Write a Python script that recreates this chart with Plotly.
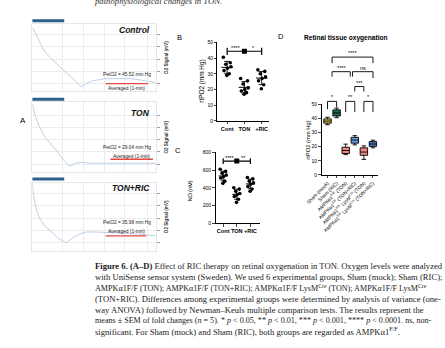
import plotly.graph_objects as go
import numpy as np

W, H = 445, 348
def fx(x): return x / W
def fy(y): return 1 - y / H

# ---------------- Panel A data (time s, O2 signal, arbitrary mV) ----------------
CTRL_T = [0, 2.5, 5, 7.5, 10, 12.5, 15, 17.5, 20, 22, 23.5, 25, 26.5, 28, 31.5, 35, 38, 45, 51.5, 58, 64]
CTRL_S = [65, 56, 45, 38, 33, 28, 23, 19, 15, 11, 7, 5, 6, 8, 11, 12, 13, 13, 13, 11, 9]
TON_T = [0, 1.5, 3.5, 5.5, 8, 10, 11, 12.5, 15, 17.5, 19, 20.5, 22.5, 25, 29, 34, 41.5, 51.5, 64]
TON_S = [69, 57, 47, 39, 32, 28, 26, 22, 15, 9, 6, 7, 9, 10, 9, 9, 9, 9, 9]
RIC_T = [0, 0.5, 1.5, 2.5, 4, 6.5, 10, 13, 15.5, 17.5, 19, 21.5, 24.5, 28, 32.5, 41.5, 55, 64]
RIC_S = [69, 57, 47, 39, 32, 25, 19, 13, 10, 8, 10, 14, 17, 19, 19, 18, 17, 15]
A_NAMES = ["Control", "TON", "TON+RIC"]
A_PETO2 = ["PetO2 = 45.52 mm Hg", "PetO2 = 29.04 mm Hg", "PetO2 = 35.98 mm Hg"]
A_AVG = "Averaged (1-min)"

# ---------------- Panel B / C data ----------------
GROUPS_BC = ["Cont", "TON", "+RIC"]
B_CONT = [40.5, 37, 36, 34.5, 33.5, 32, 30, 29]
B_TON = [27, 25.5, 23.5, 21, 20, 19, 18, 17]
B_RIC = [32.5, 31.5, 30, 28, 27, 25.5, 23, 20.5]
C_CONT = [610, 585, 565, 545, 525, 510, 475, 450]
C_TON = [400, 385, 360, 335, 320, 300, 270, 235]
C_RIC = [515, 500, 475, 455, 440, 415, 385, 360]
B_SIG = ["****", "*"]
C_SIG = ["****", "**"]

# ---------------- Panel D data ----------------
D_GROUPS = ["Sham (mock)", "Sham (RIC)", "AMPKα1<sup>F/F</sup> (TON)", "AMPKα1<sup>F/F</sup> (TON+RIC)",
            "AMPKα1<sup>F/F</sup> LysM<sup>Cre</sup> (TON)", "AMPKα1<sup>F/F</sup> LysM<sup>Cre</sup> (TON+RIC)"]
D_MIN = [35.5, 40.5, 14.4, 21.3, 11.0, 19.2]
D_Q1 = [36.6, 41.7, 15.2, 22.5, 13.9, 20.2]
D_MED = [38.1, 43.8, 17.3, 24.7, 16.2, 21.9]
D_Q3 = [39.6, 46.0, 19.6, 26.6, 19.2, 23.6]
D_MAX = [40.8, 47.2, 21.8, 27.8, 20.6, 24.6]
D_TICKS = [0, 10, 20, 30, 40, 50]
# comparisons: (from group, to group, height, left leg end, right leg end, label)
D_COMP = [(0, 1, 52, 46.5, 47.8, "*"), (2, 3, 52, 44.5, 44.5, "**"), (4, 5, 52, 44.5, 44.5, "*"),
          (3, 4, 62.5, 59, 59, "***"), (0.5, 2.5, 73, 69.5, 69.5, "****"),
          (2.75, 5, 73, 69.5, 68.5, "ns"), (0.5, 5, 83.3, 79, 79, "****")]

CAPTION = [
    "<b>Figure 6. (A–D)</b> Effect of RIC therapy on retinal oxygenation in TON. Oxygen levels were analyzed",
    "with UniSense sensor system (Sweden). We used 6 experimental groups, Sham (mock); Sham (RIC);",
    "AMPKα1F/F (TON); AMPKα1F/F (TON+RIC); AMPKα1F/F LysM<sup>Cre</sup> (TON); AMPKα1F/F LysM<sup>Cre</sup>",
    "(TON+RIC). Differences among experimental groups were determined by analysis of variance (one-",
    "way ANOVA) followed by Newman–Keuls multiple comparison tests. The results represent the",
    "means ± SEM of fold changes (<i>n</i> = 5). * <i>p</i> &lt; 0.05, ** <i>p</i> &lt; 0.01, *** <i>p</i> &lt; 0.001, **** <i>p</i> &lt; 0.0001. ns, non-",
    "significant. For Sham (mock) and Sham (RIC), both groups are regarded as AMPKα1<sup>F/F</sup>.",
]
CAPTION_SIZE = [8.6, 8.6, 8.1, 8.6, 8.6, 8.1, 8.6]

SANS = "Liberation Sans, Arial, sans-serif"
SERIF = "Liberation Serif, Times New Roman, serif"

fig = go.Figure()
layout = dict(width=W, height=H, margin=dict(l=0, r=0, t=0, b=0), autosize=False,
              paper_bgcolor="white", plot_bgcolor="rgba(0,0,0,0)", showlegend=False,
              font=dict(family=SANS, color="black"))
shapes, annos = [], []

# ---------------- Panel A ----------------
A_BOX = [dict(top=21, bot=90, bar=18, name_y=27, pet_y=73, red_y=82, red_x=(93, 137), avg_y=87, avg_x=115),
         dict(top=101, bot=172, bar=98, name_y=112, pet_y=147, red_y=159, red_x=(98, 142), avg_y=156, avg_x=120),
         dict(top=183, bot=252, bar=179, name_y=188, pet_y=223, red_y=237, red_x=(93, 135), avg_y=232, avg_x=115)]
A_SERIES = [(CTRL_T, CTRL_S), (TON_T, TON_S), (RIC_T, RIC_S)]
for i, (box, (t, s)) in enumerate(zip(A_BOX, A_SERIES)):
    k = i + 1
    xa, ya = f"x{k}", f"y{k}"
    fig.add_trace(go.Scatter(x=t, y=s, mode="lines", line=dict(color="#b3c9e4", width=0.9),
                             xaxis=xa, yaxis=ya, hoverinfo="skip"))
    hgt = box["bot"] - box["top"]
    layout[f"xaxis{k}"] = dict(domain=[fx(17), fx(145)], range=[0, 64], anchor=ya,
                               showgrid=True, gridcolor="#ececec", gridwidth=1,
                               tickvals=[15.5, 26.5, 37.5, 48, 59.5], showticklabels=False, ticks="",
                               showline=True, linecolor="#e6e6e6", mirror=True, zeroline=False)
    layout[f"yaxis{k}"] = dict(domain=[fy(box["bot"]), fy(box["top"])], range=[0, hgt], anchor=xa,
                               side="right", showgrid=True, gridcolor="#ececec",
                               tickvals=[8, 20.5, 33, 45.5, 58], showticklabels=False,
                               ticks="outside", ticklen=3, tickcolor="#9a9a9a",
                               showline=True, linecolor="#e6e6e6", mirror=True, zeroline=False)
    shapes.append(dict(type="rect", xref="paper", yref="paper", x0=fx(17), x1=fx(50),
                       y0=fy(box["bar"] + 1.5), y1=fy(box["bar"] - 1.5),
                       fillcolor="#2f5f8f", line=dict(width=0)))
    shapes.append(dict(type="line", xref="paper", yref="paper", x0=fx(box["red_x"][0]), x1=fx(box["red_x"][1]),
                       y0=fy(box["red_y"]), y1=fy(box["red_y"]), line=dict(color="#e4483f", width=1.3)))
    annos.append(dict(text=f"<b><i>{A_NAMES[i]}</i></b>", x=fx(141), y=fy(box["name_y"]), xref="paper", yref="paper",
                      xanchor="right", yanchor="middle", showarrow=False, font=dict(size=8.5, color="#111")))
    annos.append(dict(text=A_PETO2[i], x=fx(115), y=fy(box["pet_y"]), xref="paper", yref="paper",
                      xanchor="center", yanchor="middle", showarrow=False, font=dict(size=4.8, color="#222")))
    annos.append(dict(text=A_AVG, x=fx(box["avg_x"]), y=fy(box["avg_y"]), xref="paper", yref="paper",
                      xanchor="center", yanchor="middle", showarrow=False, font=dict(size=4.8, color="#222")))
    annos.append(dict(text="<b>O2 Signal (mV)</b>", x=fx(156), y=fy((box["top"] + box["bot"]) / 2),
                      xref="paper", yref="paper", textangle=-90, xanchor="center", yanchor="middle",
                      showarrow=False, font=dict(size=4.6, color="#333")))

annos.append(dict(text="A", x=fx(7), y=fy(120), xref="paper", yref="paper", showarrow=False,
                  xanchor="center", yanchor="middle", font=dict(size=8)))

# ---------------- Panels B and C ----------------
JIT = [-0.22, 0.18, -0.08, 0.22, 0.02, -0.18, 0.12, -0.02]

def dot_panel(k, series, xdom, ydom, xr, yr, ticks, sig_y, sig_h, sig_labels, capw):
    xa, ya = f"x{k}", f"y{k}"
    for c, vals in enumerate(series):
        fig.add_trace(go.Scatter(x=[c + j for j in JIT[:len(vals)]], y=vals, mode="markers",
                                 marker=dict(color="black", size=3.6), xaxis=xa, yaxis=ya, hoverinfo="skip"))
        m, sd = float(np.mean(vals)), float(np.std(vals, ddof=1))
        fig.add_trace(go.Scatter(x=[c - 0.33, c + 0.33], y=[m, m], mode="lines",
                                 line=dict(color="black", width=1), xaxis=xa, yaxis=ya, hoverinfo="skip"))
        fig.add_trace(go.Scatter(x=[c], y=[m], mode="markers", marker=dict(size=0.1, color="black"),
                                 error_y=dict(type="data", array=[sd], width=capw, thickness=0.9, color="black"),
                                 xaxis=xa, yaxis=ya, hoverinfo="skip"))
    # significance bar
    shapes.append(dict(type="line", xref=xa, yref=ya, x0=0, x1=2, y0=sig_y, y1=sig_y, line=dict(color="black", width=1.2)))
    for cx in (0, 2):
        shapes.append(dict(type="line", xref=xa, yref=ya, x0=cx, x1=cx, y0=sig_y - sig_h, y1=sig_y + sig_h,
                           line=dict(color="black", width=1.2)))
    fig.add_trace(go.Scatter(x=[1], y=[sig_y], mode="markers", marker=dict(symbol="square", size=5, color="black"),
                             xaxis=xa, yaxis=ya, hoverinfo="skip"))
    for cx, lab in zip((0.5, 1.5), sig_labels):
        annos.append(dict(text=lab, x=cx, y=sig_y, xref=xa, yref=ya, yshift=3.5, showarrow=False,
                          xanchor="center", yanchor="middle", font=dict(size=5.5)))
    layout[f"xaxis{k}"] = dict(domain=xdom, range=xr, anchor=ya, tickvals=[0, 1, 2], ticktext=GROUPS_BC,
                               tickangle=0, ticks="outside", ticklen=2.5, tickwidth=1, showline=True,
                               linecolor="black", linewidth=1, showgrid=False, zeroline=False,
                               tickfont=dict(size=5.6, weight="bold"))
    layout[f"yaxis{k}"] = dict(domain=ydom, range=yr, anchor=xa, tickvals=ticks, ticks="outside", ticklen=2.5,
                               tickwidth=1, showline=True, linecolor="black", linewidth=1, showgrid=False,
                               zeroline=False, tickfont=dict(size=5))

dot_panel(4, [B_CONT, B_TON, B_RIC], [fx(209), fx(262)], [fy(120), fy(40)], [-0.56, 2.4], [0, 50],
          [0, 10, 20, 30, 40, 50], 44.3, 2.3, B_SIG, 3)
dot_panel(5, [C_CONT, C_TON, C_RIC], [fx(207), fx(253)], [fy(224), fy(152)], [-0.56, 2.7], [0, 800],
          [0, 200, 400, 600, 800], 702, 32, C_SIG, 2.5)
annos.append(dict(text="rtPO2 (mm Hg)", x=fx(193), y=fy(80), xref="paper", yref="paper", textangle=-90,
                  showarrow=False, xanchor="center", yanchor="middle", font=dict(size=6.4)))
annos.append(dict(text="NO (nM)", x=fx(180), y=fy(191), xref="paper", yref="paper", textangle=-90,
                  showarrow=False, xanchor="center", yanchor="middle", font=dict(size=5.4)))
for lab, (x, y) in zip("BCD", [(170, 35), (168, 150), (275, 34)]):
    annos.append(dict(text=lab, x=fx(x), y=fy(y), xref="paper", yref="paper", showarrow=False,
                      xanchor="center", yanchor="middle", font=dict(size=7.5)))

# ---------------- Panel D ----------------
D_COLORS = ["#d3ca3c", "#1e6b4f", "#f0877f", "#66a3ea", "#ef8580", "#4c7cc0"]
for i in range(len(D_GROUPS)):
    fig.add_trace(go.Box(x=[i], q1=[D_Q1[i]], median=[D_MED[i]], q3=[D_Q3[i]],
                         lowerfence=[D_MIN[i]], upperfence=[D_MAX[i]], fillcolor=D_COLORS[i],
                         line=dict(color="black", width=0.9), width=0.82, whiskerwidth=0.6,
                         boxpoints=False, xaxis="x6", yaxis="y6", hoverinfo="skip"))
PXU = (175 - 103) / 50.0
layout["xaxis6"] = dict(domain=[fx(317), fx(375)], range=[-0.65, 5.5], anchor="y6",
                        tickvals=list(range(len(D_GROUPS))), ticktext=D_GROUPS, tickangle=-45,
                        ticks="outside", ticklen=2.5, showline=True, linecolor="black", linewidth=1,
                        showgrid=False, zeroline=False, tickfont=dict(size=4.9))
layout["yaxis6"] = dict(domain=[fy(175), fy(103)], range=[0, 50], anchor="x6", tickvals=D_TICKS,
                        ticks="outside", ticklen=2.5, showline=True, linecolor="black", linewidth=1,
                        showgrid=False, zeroline=False, tickfont=dict(size=5))
layout["xaxis7"] = dict(domain=[fx(317), fx(375)], range=[-0.65, 5.5], anchor="y7", visible=False)
layout["yaxis7"] = dict(domain=[fy(175), fy(175 - 90 * PXU)], range=[0, 90], anchor="x7", visible=False)
for (a, b, h, la, lb, lab) in D_COMP:
    shapes.append(dict(type="path", xref="x7", yref="y7",
                       path=f"M{a},{la} L{a},{h} L{b},{h} L{b},{lb}", line=dict(color="black", width=0.9)))
    annos.append(dict(text=lab, x=(a + b) / 2, y=h, xref="x7", yref="y7", yshift=4, showarrow=False,
                      xanchor="center", yanchor="middle", font=dict(size=5.5)))
annos.append(dict(text="rtPO2 (mm Hg)", x=fx(302), y=fy(140), xref="paper", yref="paper", textangle=-90,
                  showarrow=False, xanchor="center", yanchor="middle", font=dict(size=5.8)))
annos.append(dict(text="<b>Retinal tissue oxygenation</b>", x=fx(342), y=fy(36), xref="paper", yref="paper",
                  showarrow=False, xanchor="center", yanchor="middle", font=dict(size=6.6)))

# ---------------- Caption ----------------
annos.append(dict(text="<i>pathophysiological changes in TON.</i>", x=fx(79), y=fy(-2.5), xref="paper", yref="paper",
                  showarrow=False, xanchor="left", yanchor="middle", font=dict(family=SERIF, size=8.7, color="#333")))
for i, line in enumerate(CAPTION):
    annos.append(dict(text=line, x=fx(80), y=fy(268 + 11 * i), xref="paper", yref="paper", showarrow=False,
                      xanchor="left", yanchor="middle",
                      font=dict(family=SERIF, size=CAPTION_SIZE[i], color="#1a1a1a")))

layout["shapes"] = shapes
layout["annotations"] = annos
fig.update_layout(**layout)
fig.write_html("out.html")
